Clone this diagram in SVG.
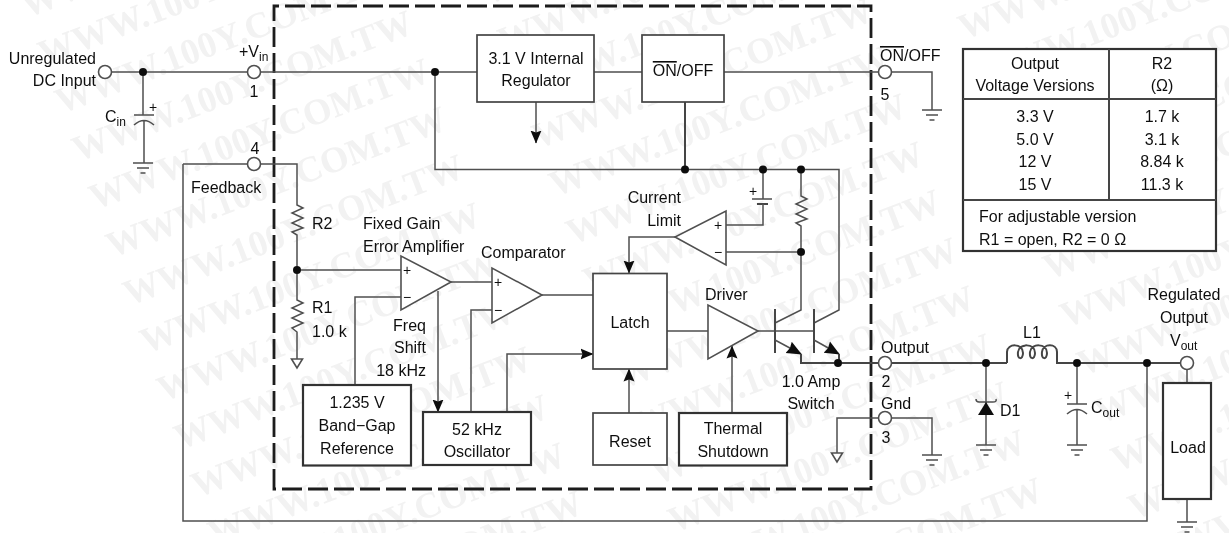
<svg xmlns="http://www.w3.org/2000/svg" xmlns:xlink="http://www.w3.org/1999/xlink" width="1229" height="533" viewBox="0 0 1229 533">
<style>
text{font-family:"Liberation Sans",Arial,sans-serif;font-size:16px;fill:#111}
.m{text-anchor:middle}
.e{text-anchor:end}
.s{font-size:12px}
.pm{font-size:14px;text-anchor:middle}
.wm{font-family:"Liberation Serif","Times New Roman",serif;font-size:36.5px;font-weight:bold;fill:#f2f2f2}
.w{fill:none;stroke:#505050;stroke-width:1.5}
.h{fill:none;stroke:#444;stroke-width:2}
.b{fill:#fff;stroke:#444;stroke-width:1.7}
.bh{fill:#fff;stroke:#333;stroke-width:2.2}
.t{fill:#fff;stroke:#505050;stroke-width:1.6}
.p{fill:#fff;stroke:#505050;stroke-width:1.6}
.d{fill:#111}
.dash{fill:none;stroke:#1a1a1a;stroke-width:2.8;stroke-dasharray:20 6}
.ov{text-decoration:overline}
</style>
<defs>
<filter id="soft" x="0" y="0" width="1229" height="533" filterUnits="userSpaceOnUse"><feGaussianBlur stdDeviation="0.45"/></filter>
<marker id="a" markerUnits="userSpaceOnUse" markerWidth="13" markerHeight="13" viewBox="0 0 13 13" refX="12.5" refY="6.5" orient="auto"><path d="M0 1L13 6.5L0 12L2 6.5z" fill="#111"/></marker>
<marker id="em" markerUnits="userSpaceOnUse" markerWidth="15" markerHeight="15" viewBox="0 0 15 15" refX="14" refY="7.5" orient="auto"><path d="M0 1L15 7.500L0 14L1.500 7.500z" fill="#111"/></marker>
<g id="gnd" class="w"><path d="M-10 0H10M-6 5H6M-2.500 10H2.500"/></g>
<path id="ognd" class="t" d="M-5.500 0H5.500L0 9z"/>
<text id="wm" class="wm" transform="rotate(-21)">WWW.100Y.COM.TW</text>
<g id="wmcol">
<use xlink:href="#wm" href="#wm" transform="translate(27,18)"/><use xlink:href="#wm" href="#wm" transform="translate(44,66)"/><use xlink:href="#wm" href="#wm" transform="translate(61,114)"/><use xlink:href="#wm" href="#wm" transform="translate(78,162)"/><use xlink:href="#wm" href="#wm" transform="translate(95,210)"/><use xlink:href="#wm" href="#wm" transform="translate(112,258)"/><use xlink:href="#wm" href="#wm" transform="translate(129,306)"/><use xlink:href="#wm" href="#wm" transform="translate(146,354)"/><use xlink:href="#wm" href="#wm" transform="translate(163,402)"/><use xlink:href="#wm" href="#wm" transform="translate(180,450)"/><use xlink:href="#wm" href="#wm" transform="translate(197,498)"/><use xlink:href="#wm" href="#wm" transform="translate(214,546)"/><use xlink:href="#wm" href="#wm" transform="translate(231,594)"/><use xlink:href="#wm" href="#wm" transform="translate(248,642)"/>
</g>
</defs>
<rect width="1229" height="533" fill="#fff"/>
<g id="drawing" filter="url(#soft)">
<g id="watermark">
<use xlink:href="#wmcol" href="#wmcol"/>
<use xlink:href="#wmcol" href="#wmcol" transform="translate(460,-13)"/>
<use xlink:href="#wmcol" href="#wmcol" transform="translate(920,-26)"/>
</g>
<g id="package-boundary"><path class="dash" d="M274 489V6H871V489Z"/></g>
<g id="connectors">
<path class="w" d="M111 72H477M594 72H642M724 72H932V110"/>
<path class="w" d="M143 72V115M134 115H154M134 125Q144 116 154 125M144 120V163"/>
<path class="w" d="M435 72V169.500H839V310L814 323"/>
<path class="w" d="M183 164V521H1147V363"/>
<path class="w" d="M183 164H297V205L303 208L292 213L303 218L292 223L303 228L292 232L297 235V300L303 303L292 308L303 313L292 318L303 323L292 328L297 332V359"/>
<path class="w" d="M297 270H401M355 385V297H401M451 282H492M471 412V310H492M542 295H593"/>
<path class="w" marker-end="url(#a)" d="M507 412V354H593"/>
<path class="w" marker-end="url(#a)" d="M438 291V412"/>
<path class="w" marker-end="url(#a)" d="M536 102V143"/>
<path class="h" d="M685 102V169"/>
<path class="w" d="M763 169V199M752 199H772"/>
<path class="h" d="M757 204H768"/>
<path class="w" d="M763 204V225H726"/>
<path class="w" d="M801 169V196L807 199L796 204L807 209L796 214L807 219L796 223L801 226V310L775 323"/>
<path class="w" d="M726 252H801"/>
<path class="w" marker-end="url(#a)" d="M675 237H629V273"/>
<path class="w" marker-end="url(#a)" d="M629 413V369"/>
<path class="w" marker-end="url(#a)" d="M732 413V346"/>
<path class="w" d="M667 331H708M758 331H814"/>
<path class="h" d="M775 309V353M814 309V353"/>
<path class="w" marker-end="url(#em)" d="M775 340L801 354"/>
<path class="w" marker-end="url(#em)" d="M814 340L839 354"/>
<path class="h" d="M801 354V363H1007M839 354V363"/>
<path class="h" d="M1007 363V352C1007 343 1023 343 1023 353C1023 360 1017 360 1018 352C1019 343 1035 343 1035 353C1035 360 1029 360 1030 352C1031 343 1047 343 1047 353C1047 360 1041 360 1042 352C1043 343 1057 343 1057 352V363H1181"/>
<path class="w" d="M986 363V445M976 399Q976 402 979 402H993Q997 402 996 399"/>
<path class="d" d="M978 415H994L986 402z"/>
<path class="w" d="M1077 363V404M1067 404H1087M1067 414Q1077 405 1087 414M1077 409V445"/>
<path class="w" d="M1187 369V383M1187 499V522"/>
<path class="w" d="M837 453V418H932V455"/>
<use xlink:href="#gnd" href="#gnd" transform="translate(143,163)"/>
<use xlink:href="#gnd" href="#gnd" transform="translate(932,110)"/>
<use xlink:href="#gnd" href="#gnd" transform="translate(986,445)"/>
<use xlink:href="#gnd" href="#gnd" transform="translate(1077,445)"/>
<use xlink:href="#gnd" href="#gnd" transform="translate(932,455)"/>
<use xlink:href="#gnd" href="#gnd" transform="translate(1187,522)"/>
<use xlink:href="#ognd" href="#ognd" transform="translate(297,359)"/>
<use xlink:href="#ognd" href="#ognd" transform="translate(837,453)"/>
<circle class="d" cx="143" cy="72" r="4"/><circle class="d" cx="435" cy="72" r="4"/><circle class="d" cx="297" cy="270" r="4"/><circle class="d" cx="685" cy="169.500" r="4"/><circle class="d" cx="763" cy="169.500" r="4"/><circle class="d" cx="801" cy="169.500" r="4"/><circle class="d" cx="801" cy="252" r="4"/><circle class="d" cx="838" cy="363" r="4"/><circle class="d" cx="986" cy="363" r="4"/><circle class="d" cx="1077" cy="363" r="4"/><circle class="d" cx="1147" cy="363" r="4"/>
</g>
<g id="labels">
<text class="e" x="96" y="64">Unregulated</text><text class="e" x="96" y="86">DC Input</text>
<text x="239" y="57">+V<tspan class="s" dy="4">in</tspan></text>
<text class="m" x="254" y="97">1</text><text class="m" x="255" y="154">4</text>
<text x="191" y="193">Feedback</text>
<text x="105" y="122">C<tspan class="s" dy="4">in</tspan></text>
<text class="pm" x="153" y="112">+</text>
<text x="312" y="229">R2</text><text x="363" y="229">Fixed Gain</text><text x="363" y="252">Error Amplifier</text>
<text x="312" y="313">R1</text><text x="312" y="337">1.0 k</text>
<text class="e" x="426" y="331">Freq</text><text class="e" x="426" y="353">Shift</text><text class="e" x="426" y="376">18 kHz</text>
<text x="481" y="258">Comparator</text>
<text class="e" x="681" y="203">Current</text><text class="e" x="681" y="226">Limit</text>
<text class="pm" x="753" y="196">+</text>
<text x="705" y="300">Driver</text>
<text class="m" x="811" y="387">1.0 Amp</text><text class="m" x="811" y="409">Switch</text>
<text x="880" y="61"><tspan class="ov">ON</tspan>/OFF</text><text class="m" x="885" y="100">5</text>
<text x="881" y="353">Output</text><text class="m" x="886" y="387">2</text><text x="881" y="409">Gnd</text><text class="m" x="886" y="443">3</text>
<text class="m" x="1032" y="338">L1</text><text x="1000" y="416">D1</text>
<text x="1091" y="413">C<tspan class="s" dy="4">out</tspan></text><text class="pm" x="1068" y="400">+</text>
<text class="m" x="1184" y="300">Regulated</text><text class="m" x="1184" y="323">Output</text>
<text x="1170" y="346">V<tspan class="s" dy="4">out</tspan></text>
</g>
<g id="pin-input"><circle class="p" cx="105" cy="72" r="6.500"/></g>
<g id="pin-1"><circle class="p" cx="254" cy="72" r="6.500"/></g>
<g id="pin-4"><circle class="p" cx="254" cy="164" r="6.500"/></g>
<g id="pin-5"><circle class="p" cx="885" cy="72" r="6.500"/></g>
<g id="pin-2"><circle class="p" cx="885" cy="363" r="6.500"/></g>
<g id="pin-3"><circle class="p" cx="885" cy="418" r="6.500"/></g>
<g id="pin-vout"><circle class="p" cx="1187" cy="363" r="6.500"/></g>
<g id="regulator"><rect class="b" x="477" y="35" width="117" height="67"/><text class="m" x="536" y="64">3.1 V Internal</text><text class="m" x="536" y="86">Regulator</text></g>
<g id="onoff"><rect class="b" x="642" y="35" width="82" height="67"/><text class="m" x="683" y="76"><tspan class="ov">ON</tspan>/OFF</text></g>
<g id="error-amp"><path class="t" d="M401 256V310L451 282Z"/><text class="pm" x="407" y="275">+</text><text class="pm" x="407" y="302">−</text></g>
<g id="comparator"><path class="t" d="M492 268V323L542 295Z"/><text class="pm" x="498" y="287">+</text><text class="pm" x="498" y="315">−</text></g>
<g id="current-amp"><path class="t" d="M726 211V265L675 237Z"/><text class="pm" x="718" y="230">+</text><text class="pm" x="718" y="257">−</text></g>
<g id="driver"><path class="t" d="M708 305V359L758 331Z"/></g>
<g id="latch"><rect class="b" x="593" y="273.500" width="74" height="95.500"/><text class="m" x="630" y="328">Latch</text></g>
<g id="reset"><rect class="b" x="593" y="413" width="74" height="52"/><text class="m" x="630" y="447">Reset</text></g>
<g id="thermal"><rect class="bh" x="679" y="413" width="108" height="52.500"/><text class="m" x="733" y="434">Thermal</text><text class="m" x="733" y="457">Shutdown</text></g>
<g id="bandgap"><rect class="bh" x="303" y="385" width="108" height="80.500"/><text class="m" x="357" y="408">1.235 V</text><text class="m" x="357" y="431">Band−Gap</text><text class="m" x="357" y="454">Reference</text></g>
<g id="oscillator"><rect class="bh" x="423" y="412" width="108" height="53"/><text class="m" x="477" y="435">52 kHz</text><text class="m" x="477" y="457">Oscillator</text></g>
<g id="load"><rect class="bh" x="1163" y="383" width="48" height="116"/><text class="m" x="1188" y="453">Load</text></g>
<g id="table">
<rect class="bh" x="963" y="49" width="253" height="202"/>
<path class="h" d="M963 99H1216M963 200H1216M1109 49V200"/>
<text class="m" x="1035" y="69">Output</text><text class="m" x="1035" y="91">Voltage Versions</text>
<text class="m" x="1162" y="69">R2</text><text class="m" x="1162" y="91">(Ω)</text>
<text class="m" x="1035" y="122">3.3 V</text><text class="m" x="1035" y="145">5.0 V</text><text class="m" x="1035" y="167">12 V</text><text class="m" x="1035" y="190">15 V</text>
<text class="m" x="1162" y="122">1.7 k</text><text class="m" x="1162" y="145">3.1 k</text><text class="m" x="1162" y="167">8.84 k</text><text class="m" x="1162" y="190">11.3 k</text>
<text x="979" y="222">For adjustable version</text><text x="979" y="245">R1 = open, R2 = 0 Ω</text>
</g>
</g>
</svg>
